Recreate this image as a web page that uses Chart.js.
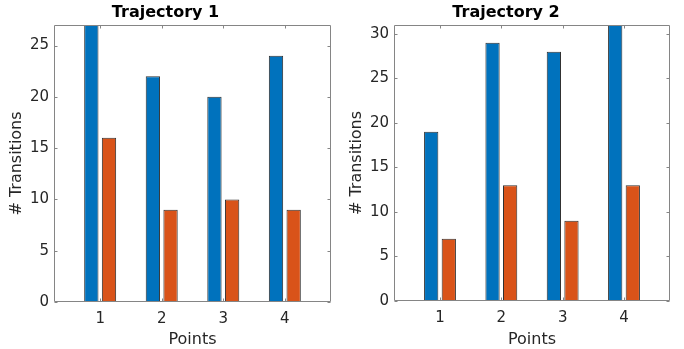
<!DOCTYPE html>
<html>
<head>
<meta charset="utf-8">
<script src="https://cdn.jsdelivr.net/npm/chart.js@4/dist/chart.umd.min.js"></script>
<style>
  html, body { margin: 0; padding: 0; background: #fff; }
  #wrap { position: relative; width: 684px; height: 349px; }
  canvas { position: absolute; top: 0; }
</style>
</head>
<body>
<div id="wrap">
  <canvas id="c1" width="342" height="349" style="left:0"></canvas>
  <canvas id="c2" width="342" height="349" style="left:342px"></canvas>
</div>
<script>
const categories = [1, 2, 3, 4];
const xTickLabels = ['1', '2', '3', '4'];
const traj1Blue = [27, 22, 20, 24];
const traj1Orange = [16, 9, 10, 9];
const traj2Blue = [19, 29, 28, 31];
const traj2Orange = [7, 13, 9, 13];
const titles = ['Trajectory 1', 'Trajectory 2'];
const yMax = [27, 31];
const yTicks1 = [0, 5, 10, 15, 20, 25];
const yTicks2 = [0, 5, 10, 15, 20, 25, 30];

const FONT = "'DejaVu Sans', sans-serif";
const TXT = '#262626';
const BOX = '#858585';

const boxPlugin = {
  id: 'matlabBox',
  afterDatasetsDraw(chart) {
    const ctx = chart.ctx, a = chart.chartArea;
    const xs = chart.scales.x, ys = chart.scales.y;
    const L = Math.round(a.left) + 0.5, R = Math.round(a.right) - 0.5;
    const T = Math.round(a.top) + 0.5, B = Math.round(a.bottom) - 0.5;
    ctx.save();
    ctx.strokeStyle = BOX;
    ctx.lineWidth = 1;
    ctx.beginPath();
    ctx.rect(L, T, R - L, B - T);
    const tl = 3;
    xs.ticks.forEach(t => {
      const px = Math.round(xs.getPixelForValue(t.value)) + 0.5;
      ctx.moveTo(px, B); ctx.lineTo(px, B - tl);
      ctx.moveTo(px, T); ctx.lineTo(px, T + tl);
    });
    ys.ticks.forEach(t => {
      const py = Math.round(ys.getPixelForValue(t.value)) + 0.5;
      ctx.moveTo(L, py); ctx.lineTo(L + tl, py);
      ctx.moveTo(R, py); ctx.lineTo(R - tl, py);
    });
    ctx.stroke();
    ctx.restore();
  }
};

function makeChart(id, title, blue, orange, ymax, yticks, yWidth, xHeight, padRight, yTitlePad, titlePadTop) {
  const toPts = arr => categories.map((c, i) => ({ x: c, y: arr[i] }));
  const common = { borderColor: 'rgba(25,25,25,0.9)', borderWidth: 1, inflateAmount: 0,
                   categoryPercentage: 0.574, barPercentage: 0.81 };
  return new Chart(document.getElementById(id), {
    type: 'bar',
    data: {
      datasets: [
        Object.assign({ data: toPts(blue), backgroundColor: '#0072BD' }, common),
        Object.assign({ data: toPts(orange), backgroundColor: '#D95319' }, common)
      ]
    },
    options: {
      responsive: false,
      animation: false,
      devicePixelRatio: 1,
      layout: { padding: { left: 0, right: padRight, top: 0, bottom: 0 } },
      plugins: {
        legend: { display: false },
        tooltip: { enabled: false },
        title: {
          display: true, text: title, color: '#000',
          font: { family: FONT, size: 16, weight: 'bold', lineHeight: 1.2 },
          padding: { top: titlePadTop, bottom: 25 - titlePadTop - 19.2 }
        }
      },
      scales: {
        x: {
          type: 'linear', min: 0.25, max: 4.75, offset: false,
          grid: { display: false, drawTicks: false },
          border: { display: false },
          afterBuildTicks: s => { s.ticks = categories.map(v => ({ value: v })); },
          ticks: {
            color: TXT, font: { family: FONT, size: 15 }, padding: 8,
            autoSkip: false, maxRotation: 0,
            callback: (v) => xTickLabels[categories.indexOf(v)]
          },
          title: { display: true, text: 'Points', color: TXT, font: { family: FONT, size: 16 }, padding: 0 },
          afterFit: s => { s.height = xHeight; }
        },
        y: {
          min: 0, max: ymax,
          grid: { display: false, drawTicks: false },
          border: { display: false },
          afterBuildTicks: s => { s.ticks = yticks.map(v => ({ value: v })); },
          ticks: { color: TXT, font: { family: FONT, size: 15 }, padding: 5 },
          title: { display: true, text: '# Transitions', color: TXT, font: { family: FONT, size: 16 }, padding: yTitlePad },
          afterFit: s => { s.width = yWidth; }
        }
      }
    },
    plugins: [boxPlugin]
  });
}

makeChart('c1', titles[0], traj1Blue, traj1Orange, yMax[0], yTicks1, 54, 47, 11, 7, 3);
makeChart('c2', titles[1], traj2Blue, traj2Orange, yMax[1], yTicks2, 52, 48, 14, 5, 3);
</script>
</body>
</html>
